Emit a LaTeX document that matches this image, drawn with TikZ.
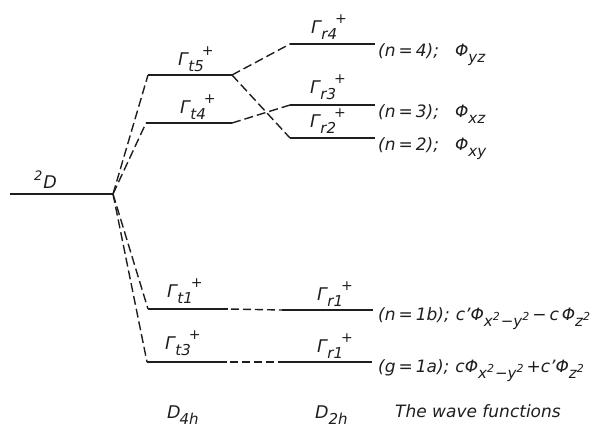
\documentclass[tikz,border=0pt]{standalone}
\usepackage{fontspec}
\setmainfont{DejaVu Sans}
\definecolor{ink}{HTML}{1E1E1E}
\newcommand\lo[1]{\raisebox{-6pt}{\fontsize{15}{15}\selectfont #1}}
\newcommand\hi[1]{\raisebox{10pt}{\fontsize{14}{14}\selectfont #1}}
\newcommand\sq{\raisebox{6pt}{\fontsize{11}{11}\selectfont 2}}
\newcommand\Gl[1]{Γ\kern0.5pt\lo{#1}\kern-2pt\hi{+}}
\newcommand\eqs{\kern3pt=\kern3pt}
\begin{document}
\begin{tikzpicture}[x=1pt,y=-1pt,
  level/.style={line width=2.2pt, draw=ink},
  conn/.style={line width=1.4pt, draw=ink, dash pattern=on 9pt off 4pt},
  lab/.style={anchor=base west, inner sep=0pt, text=ink, font=\fontsize{17.5}{20}\selectfont\itshape},
  wf/.style={anchor=base west, inner sep=0pt, text=ink, font=\fontsize{17}{20}\selectfont\itshape}]
\useasboundingbox (0,0) rectangle (605,429);
% coordinates
\coordinate (D0) at (10,194);
\coordinate (C) at (113,194);
\coordinate (t5L) at (148,75);  \coordinate (t5R) at (232,75);
\coordinate (t4L) at (146,123); \coordinate (t4R) at (232,123);
\coordinate (r4L) at (290,44);  \coordinate (r4R) at (375,44);
\coordinate (r3L) at (290,105); \coordinate (r3R) at (375,105);
\coordinate (r2L) at (290,138); \coordinate (r2R) at (375,138);
\coordinate (t1L) at (148,309); \coordinate (t1R) at (228,309);
\coordinate (a1L) at (282,310); \coordinate (a1R) at (373,310);
\coordinate (t3L) at (147,362); \coordinate (t3R) at (227,362);
\coordinate (b1L) at (281,362); \coordinate (b1R) at (372,362);
% levels
\draw[level, line width=1.7pt] (D0) -- (C);
\foreach \a/\b in {t5L/t5R, t4L/t4R, r4L/r4R, r3L/r3R, r2L/r2R, t1L/t1R, a1L/a1R, t3L/t3R, b1L/b1R}
  \draw[level] (\a) -- (\b);
% connectors
\draw[conn] (C) -- (t5L);
\draw[conn] (C) -- (t4L);
\draw[conn] (C) -- (t1L);
\draw[conn] (C) -- (t3L);
\draw[conn] (t5R) -- (r4L);
\draw[conn] (t5R) -- (r2L);
\draw[conn] (t4R) -- (r3L);
\draw[conn, dash pattern=on 8pt off 4pt, dash phase=-3pt] (t1R) -- (a1L);
\draw[conn, dash pattern=on 8pt off 4pt, dash phase=-3pt] (t3R) -- (b1L);
% labels
\node[lab] (L2D) at (34,188) {\raisebox{8pt}{\fontsize{13}{13}\selectfont 2}\kern1pt D};
\node[lab] (Lt5) at (178,65) {\Gl{t5}};
\node[lab] (Lt4) at (180,113) {\Gl{t4}};
\node[lab] (Lr4) at (311,33) {\Gl{r4}};
\node[lab] (Lr3) at (310,93) {\Gl{r3}};
\node[lab] (Lr2) at (310,127) {\Gl{r2}};
\node[lab] (Lt1) at (167,297) {\Gl{t1}};
\node[lab] (La1) at (317,300) {\Gl{r1}};
\node[lab] (Lt3) at (165,349) {\Gl{t3}};
\node[lab] (Lb1) at (317,352) {\Gl{r1}};
% wave functions
\node[wf] (Wr4) at (378,56) {(n\eqs 4);\hspace{16pt}Φ\lo{yz}};
\node[wf] (Wr3) at (378,117) {(n\eqs 3);\hspace{16pt}Φ\lo{xz}};
\node[wf] (Wr2) at (378,150) {(n\eqs 2);\hspace{16pt}Φ\lo{xy}};
\node[wf] (Wa1) at (378,320) {(n\eqs 1b);\hspace{6pt}c'Φ\lo{x\sq\kern1pt−y\sq}\kern3pt−\kern3pt c\kern3pt Φ\lo{z\sq}};
\node[wf] (Wb1) at (378,372) {(g\eqs 1a);\hspace{6pt}cΦ\lo{x\sq\kern1pt−y\sq}\kern3pt+c'Φ\lo{z\sq}};
% bottom
\node[lab] (B4) at (167,418) {D\lo{\kern-1pt 4h}};
\node[lab] (B2) at (315,418) {D\lo{2h}};
\node[wf] (Bw) at (395,417) {The wave functions};
\end{tikzpicture}
\end{document}
